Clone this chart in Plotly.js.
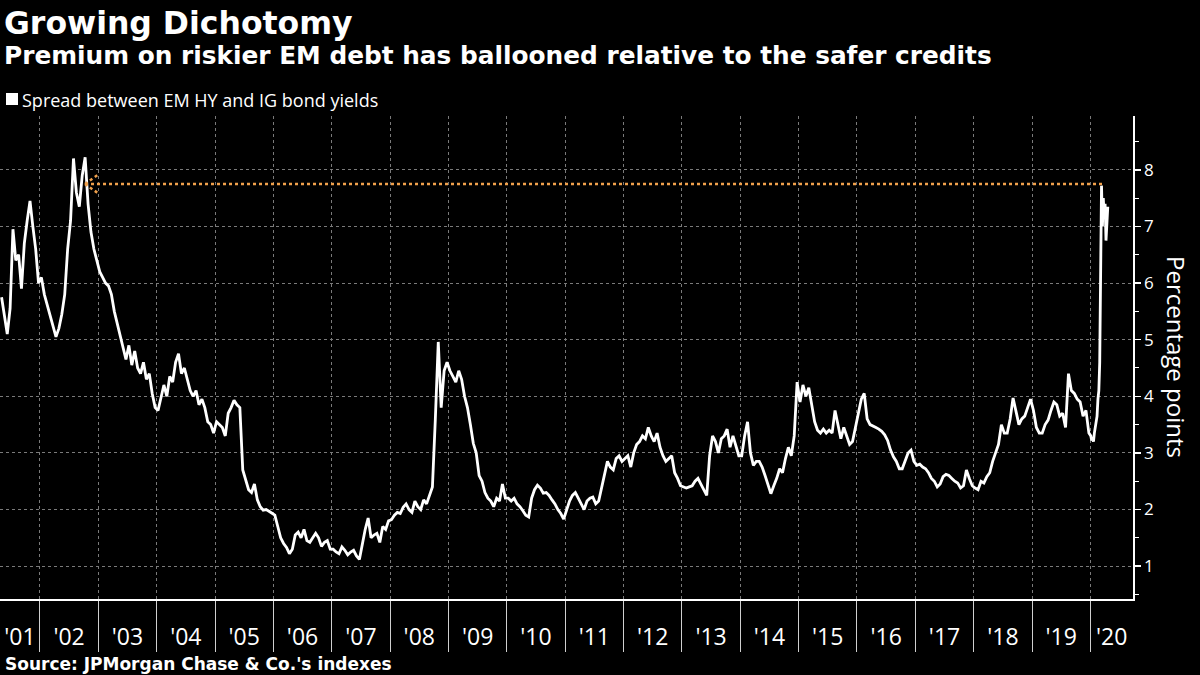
<!DOCTYPE html>
<html><head><meta charset="utf-8">
<script src="https://cdn.plot.ly/plotly-3.0.1.min.js"></script>
<style>html,body{margin:0;padding:0;background:#000;}#chart{width:1200px;height:675px;}</style>
</head><body><div id="chart"></div>
<script>
// ---- DATA: spread between EM HY and IG bond yields (percentage points) ----
const firstDate = '2001-04-27';
const lastDate  = '2020-04-22';
const s2001 = [5.75, 5.4, 5.1, 5.55, 6.95, 6.4, 6.5, 5.9, 6.7, 7.1, 7.45, 7.0, 6.6, 6.0];
const s2002 = [6.1, 5.8, 5.6, 5.4, 5.2, 5.05, 5.2, 5.45, 5.8, 6.6, 7.1, 8.2, 7.6, 7.35, 7.9, 8.22, 7.4, 6.9, 6.6, 6.4];
const s2003 = [6.2, 6.1, 6.0, 5.95, 5.8, 5.5, 5.3, 5.05, 4.9, 4.65, 4.9, 4.55, 4.8, 4.5, 4.4, 4.6, 4.3, 4.4, 4.05, 3.8];
const s2004 = [3.75, 3.95, 4.2, 4.0, 4.35, 4.25, 4.6, 4.75, 4.4, 4.5, 4.3, 4.1, 4.0, 4.1, 3.85, 3.95, 3.8, 3.55, 3.5, 3.35];
const s2005 = [3.55, 3.5, 3.45, 3.3, 3.7, 3.8, 3.93, 3.85, 3.8, 2.7, 2.5, 2.35, 2.3, 2.45, 2.17, 2.05, 1.99, 2.0, 1.97, 1.93];
const s2006 = [1.9, 1.7, 1.5, 1.4, 1.33, 1.22, 1.3, 1.55, 1.6, 1.5, 1.65, 1.45, 1.42, 1.5, 1.58, 1.5, 1.35, 1.42, 1.45, 1.3];
const s2007 = [1.3, 1.25, 1.22, 1.34, 1.28, 1.2, 1.25, 1.28, 1.18, 1.12, 1.4, 1.65, 1.85, 1.5, 1.55, 1.58, 1.42, 1.7, 1.65, 1.8];
const s2008 = [1.82, 1.9, 1.95, 1.93, 2.04, 2.1, 2.0, 1.95, 2.15, 2.05, 2.0, 2.17, 2.1, 2.25, 2.4, 3.6, 4.96, 3.8, 4.45, 4.6];
const s2009 = [4.45, 4.35, 4.25, 4.45, 4.3, 4.0, 3.8, 3.5, 3.17, 3.0, 2.6, 2.5, 2.3, 2.2, 2.15, 2.05, 2.2, 2.15, 2.45, 2.2];
const s2010 = [2.2, 2.15, 2.2, 2.1, 2.05, 1.98, 1.9, 1.87, 2.2, 2.35, 2.43, 2.38, 2.29, 2.3, 2.25, 2.17, 2.1, 2.0, 1.93, 1.83];
const s2011 = [2.0, 2.15, 2.25, 2.3, 2.2, 2.1, 2.0, 2.15, 2.2, 2.22, 2.1, 2.15, 2.4, 2.6, 2.85, 2.75, 2.7, 2.9, 2.95, 2.85];
const s2012 = [2.9, 2.95, 2.75, 3.0, 3.15, 3.2, 3.3, 3.25, 3.45, 3.3, 3.2, 3.35, 3.1, 2.95, 2.85, 2.9, 2.95, 2.65, 2.55, 2.42];
const s2013 = [2.4, 2.38, 2.4, 2.42, 2.5, 2.55, 2.45, 2.35, 2.25, 2.95, 3.3, 3.2, 3.0, 3.25, 3.3, 3.42, 3.1, 3.3, 3.1, 2.95];
const s2014 = [2.95, 3.3, 3.55, 3.0, 2.78, 2.85, 2.85, 2.75, 2.6, 2.45, 2.28, 2.42, 2.55, 2.72, 2.65, 2.9, 3.1, 2.95, 3.3, 4.25];
const s2015 = [3.9, 4.2, 4.0, 4.15, 3.85, 3.55, 3.4, 3.35, 3.42, 3.35, 3.4, 3.35, 3.75, 3.5, 3.25, 3.45, 3.3, 3.15, 3.2, 3.45];
const s2016 = [3.75, 3.95, 4.05, 3.6, 3.5, 3.48, 3.45, 3.42, 3.38, 3.32, 3.22, 3.05, 2.93, 2.85, 2.72, 2.72, 2.85, 3.0, 3.05, 2.85];
const s2017 = [2.78, 2.8, 2.75, 2.72, 2.65, 2.55, 2.5, 2.4, 2.45, 2.58, 2.62, 2.6, 2.55, 2.5, 2.47, 2.38, 2.42, 2.7, 2.55, 2.42];
const s2018 = [2.38, 2.35, 2.5, 2.47, 2.58, 2.65, 2.85, 3.0, 3.15, 3.5, 3.35, 3.35, 3.6, 3.97, 3.75, 3.5, 3.6, 3.65, 3.8, 3.95];
const s2019 = [3.75, 3.45, 3.35, 3.35, 3.5, 3.58, 3.75, 3.9, 3.85, 3.65, 3.7, 3.45, 4.4, 4.1, 4.05, 3.95, 3.9, 3.65, 3.75, 3.35];
const s2020 = [3.3, 3.22, 3.25, 3.2, 3.35, 3.45, 3.5, 3.65, 3.95, 4.1, 4.6, 6.0, 7.72, 7.0, 7.5, 7.15, 7.4, 6.75, 7.1, 7.35];

const years = [2001,2002,2003,2004,2005,2006,2007,2008,2009,2010,2011,2012,2013,2014,2015,2016,2017,2018,2019,2020];
const yearSeries = [s2001,s2002,s2003,s2004,s2005,s2006,s2007,s2008,s2009,s2010,s2011,s2012,s2013,s2014,s2015,s2016,s2017,s2018,s2019,s2020];
const tickLabels = ["'01","'02","'03","'04","'05","'06","'07","'08","'09","'10","'11","'12","'13","'14","'15","'16","'17","'18","'19","'20"];
const yTicks = [1,2,3,4,5,6,7,8];

const xRange = ['2001-04-26', '2020-09-24'];
const yRange = [0.42, 8.95];

// Arrow (previous peak reference)
const arrowTipDate = '2002-10-10';
const arrowEndDate = '2020-03-17';
const arrowLevel = 7.75;

// ---- build date series ----
function ms(s){ return Date.parse(s + 'T00:00:00Z'); }
function fmt(t){ return new Date(t).toISOString().slice(0,19).replace('T',' '); }
const dates = [], values = [];
years.forEach((yr, k) => {
  const vals = yearSeries[k];
  const start = yr === years[0] ? ms(firstDate) : Date.UTC(yr,0,1);
  const end = yr === years[years.length-1] ? ms(lastDate) : Date.UTC(yr+1,0,1);
  vals.forEach((v,i) => { dates.push(fmt(start + (i+0.5)/vals.length*(end-start))); values.push(v); });
});

const r0 = ms(xRange[0]), r1 = ms(xRange[1]);
const boundaries = years.slice(1).map(y => y + '-01-01');
const labelPos = years.map(y => {
  const a = Math.max(Date.UTC(y,0,1), r0), b = Math.min(Date.UTC(y+1,0,1), r1);
  return fmt((a+b)/2);
});

const orange = '#f0a04b';
const DAY = 86400000;
const armEnd = fmt(ms(arrowTipDate) + 80*DAY);

const trace = {
  x: dates, y: values, type: 'scatter', mode: 'lines',
  line: {color: '#ffffff', width: 2.8}, hoverinfo: 'skip', showlegend: false
};

const PW = 1133, PT = 116, PB = 599, PH = PB - PT;
function px(x){ return x / PW; }
function py(y){ return (PB - y) / PH; }

const layout = {
  width: 1200, height: 675,
  paper_bgcolor: '#000', plot_bgcolor: '#000',
  margin: {l: 0, r: 1200 - PW, t: PT, b: 675 - PB},
  showlegend: false,
  font: {family: 'Open Sans, sans-serif', color: '#fff'},
  xaxis: {
    type: 'date', range: xRange,
    tickmode: 'array', tickvals: labelPos, ticktext: tickLabels,
    ticks: 'outside', ticklen: 17, tickcolor: 'rgba(0,0,0,0)', tickwidth: 1,
    showgrid: false, showline: true, linecolor: '#fff', linewidth: 1.5, zeroline: false, fixedrange: true,
    tickfont: {family: 'Open Sans, sans-serif', size: 23, color: '#fff'},
    minor: {tickmode: 'array', tickvals: boundaries, ticks: 'outside', ticklen: 51,
            tickcolor: '#cfcfcf', tickwidth: 1,
            showgrid: true, gridcolor: '#7a7a7a', griddash: '3px,3px', gridwidth: 1}
  },
  yaxis: {
    side: 'right', range: yRange, tickmode: 'array', tickvals: yTicks,
    ticks: 'outside', ticklen: 6, tickwidth: 1.5, tickcolor: '#fff',
    showline: true, linecolor: '#fff', linewidth: 1.5,
    showgrid: true, gridcolor: '#7a7a7a', griddash: '3px,3px', gridwidth: 1,
    zeroline: false, fixedrange: true,
    tickfont: {family: 'Open Sans, sans-serif', size: 17, color: '#fff'},
    minor: {dtick: 0.5, tick0: 0, ticks: 'outside', ticklen: 4, tickcolor: '#fff', tickwidth: 1, showgrid: false}
  },
  shapes: [
    {type: 'rect', xref: 'paper', yref: 'paper', x0: px(6), x1: px(18), y0: py(105), y1: py(93),
     fillcolor: '#fff', line: {width: 0}},
    {type: 'line', xref: 'x', yref: 'y', x0: arrowTipDate, x1: arrowEndDate, y0: arrowLevel, y1: arrowLevel,
     line: {color: orange, width: 2.5, dash: 'dot'}},
    {type: 'line', xref: 'x', yref: 'y', x0: arrowTipDate, x1: armEnd, y0: arrowLevel, y1: arrowLevel + 0.16,
     line: {color: orange, width: 2.5, dash: 'dot'}},
    {type: 'line', xref: 'x', yref: 'y', x0: arrowTipDate, x1: armEnd, y0: arrowLevel, y1: arrowLevel - 0.16,
     line: {color: orange, width: 2.5, dash: 'dot'}}
  ],
  annotations: [
    {text: '<b>Growing Dichotomy</b>', xref: 'paper', yref: 'paper', x: px(2), y: py(23),
     xanchor: 'left', yanchor: 'middle', showarrow: false,
     font: {family: 'DejaVu Sans, sans-serif', size: 31.5, color: '#fff'}},
    {text: '<b>Premium on riskier EM debt has ballooned relative to the safer credits</b>', xref: 'paper', yref: 'paper',
     x: px(2), y: py(55.5), xanchor: 'left', yanchor: 'middle', showarrow: false,
     font: {family: 'DejaVu Sans, sans-serif', size: 24.8, color: '#fff'}},
    {text: 'Spread between EM HY and IG bond yields', xref: 'paper', yref: 'paper',
     x: px(20), y: py(100), xanchor: 'left', yanchor: 'middle', showarrow: false,
     font: {family: 'Open Sans, sans-serif', size: 18, color: '#fff'}},
    {text: '<b>Source: JPMorgan Chase & Co.\'s indexes</b>', xref: 'paper', yref: 'paper',
     x: px(3), y: py(664), xanchor: 'left', yanchor: 'middle', showarrow: false,
     font: {family: 'DejaVu Sans, sans-serif', size: 17, color: '#fff'}},
    {text: 'Percentage points', xref: 'paper', yref: 'paper', x: px(1177), y: py(357),
     xanchor: 'center', yanchor: 'middle', showarrow: false, textangle: 90,
     font: {family: 'Open Sans, sans-serif', size: 24, color: '#fff'}}
  ]
};

Plotly.newPlot('chart', [trace], layout, {displayModeBar: false, staticPlot: true});
</script>
</body></html>
